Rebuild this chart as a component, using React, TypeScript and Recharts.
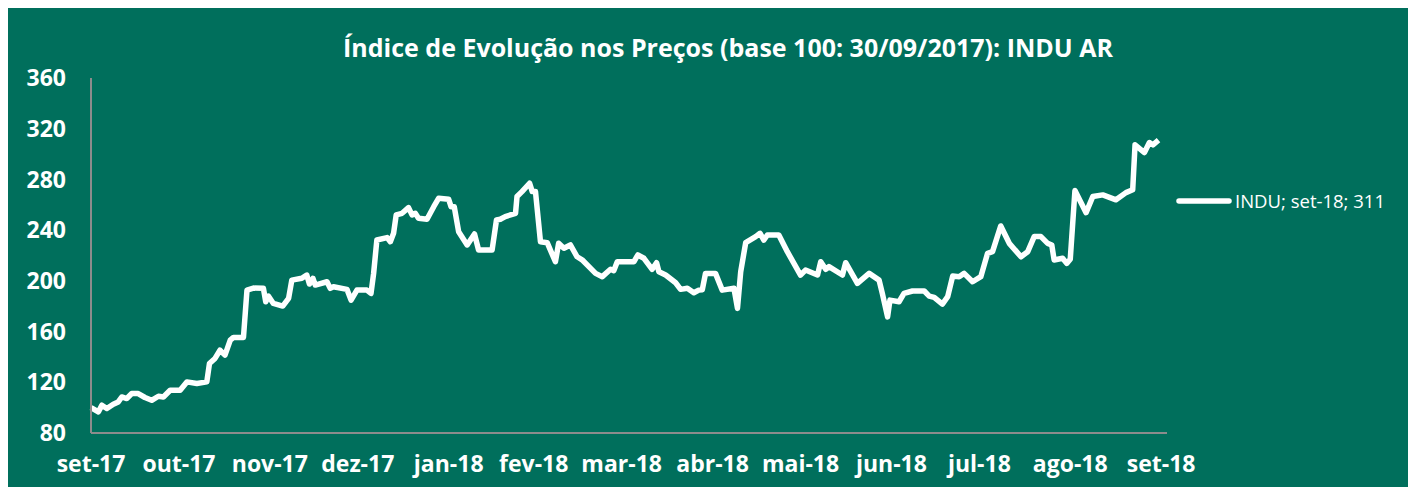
import React from "react";
import { LineChart, Line, XAxis, YAxis, Legend } from "recharts";

const TITLE = "Índice de Evolução nos Preços (base 100: 30/09/2017): INDU AR";
const SERIES_NAME = "INDU";
const LEGEND_TEXT = "INDU; set-18; 311";

// days since 30/09/2017
const days = [
  0, 2.5, 3.7, 5.4, 7.6, 9.3, 10.5, 12.2, 13.9, 16.1, 18.4, 20.7, 23.0, 24.7, 27.0, 30.4, 32.7, 36.1, 39.5, 40.4,
  42.3, 44.0, 45.7, 47.5, 48.6, 52.0, 53.2, 55.4, 58.8, 59.6, 60.5, 62.2, 65.4, 67.4, 68.5, 71.9, 73.6, 74.5, 75.7, 76.5,
  80.5, 81.6, 82.7, 87.3, 88.7, 90.7, 94.1, 95.5, 96.4, 97.5, 101.0, 102.1, 103.2, 104.1, 106.1, 108.3, 109.5, 110.6, 111.7, 114.6,
  116.9, 118.6, 122.0, 122.8, 123.9, 125.4, 128.3, 130.8, 132.2, 136.8, 138.3, 139.6, 141.3, 144.8, 145.3, 147.0, 149.6, 150.5, 151.6, 153.3,
  155.6, 158.4, 159.5, 161.3, 163.5, 165.8, 167.5, 172.1, 174.4, 177.2, 178.3, 179.5, 185.2, 186.5, 188.6, 191.4, 192.9, 193.7, 196.0, 199.4,
  201.1, 203.4, 205.6, 207.3, 208.5, 209.6, 213.0, 215.3, 219.3, 220.5, 221.6, 223.3, 226.7, 228.2, 229.5, 230.7, 234.6, 237.5, 242.0, 243.7,
  247.8, 248.9, 250.6, 251.7, 256.3, 257.4, 261.4, 265.4, 268.8, 269.9, 271.7, 272.5, 275.6, 277.3, 280.2, 284.2, 285.9, 287.6, 290.4, 292.2,
  293.9, 296.1, 297.8, 300.7, 303.5, 305.8, 307.5, 310.3, 313.2, 317.2, 319.5, 321.7, 324.0, 326.3, 327.7, 328.5, 331.4, 332.8, 334.0, 335.6,
  339.4, 341.7, 345.1, 349.6, 353.0, 355.3, 356.1, 359.3, 361.0, 362.2, 364.1,
];

const values = [
  100, 96.6, 101.9, 99.3, 102.7, 104.5, 108.4, 107.2, 111.1, 111.1, 108, 105.8, 109, 108.4, 113.7, 113.7, 120.3, 119, 120.3, 134.8,
  138.8, 145.3, 141.4, 153.2, 155.4, 155.4, 192.7, 194.3, 194.1, 183.5, 188, 182.2, 180.1, 186.2, 200.6, 202, 204.6, 197.5, 202, 196.7,
  199.3, 194.1, 195.3, 193.3, 184.8, 192.7, 192.7, 190.1, 205.9, 232.2, 234.1, 230.9, 237.5, 252, 253.3, 257.8, 252, 253.3, 249.4, 248.6,
  258.5, 265.2, 264.4, 258.5, 258.5, 238.8, 228.3, 237, 224.3, 224.3, 248, 248.6, 250.7, 253.3, 266.5, 270.4, 277, 270.4, 270.4, 230.9,
  230.1, 215.1, 229.6, 225.7, 228.3, 219, 216.6, 205.9, 203.3, 209.1, 208, 215.1, 215.1, 220.4, 217.8, 209.1, 214.3, 207.2, 204.6, 198.5,
  193.3, 194.1, 190.6, 192.7, 193, 205.9, 205.9, 192.7, 194.1, 178.3, 207.2, 230.1, 234.9, 237.5, 232.2, 236.2, 236.2, 223, 204.6, 208.5,
  204.6, 215.1, 209.1, 211.2, 204.6, 214.3, 198, 205.9, 200.6, 190.1, 171.6, 184.8, 183.5, 190.1, 192, 192, 188, 187, 181.7, 187.5,
  203.8, 203.3, 205.9, 199.3, 203.3, 221.7, 223, 243.3, 229.6, 219, 223, 234.9, 234.9, 229.6, 228.3, 216.5, 217.8, 213.8, 217, 271.2,
  253.8, 266.5, 267.8, 263.9, 269.6, 271.8, 307.3, 301.2, 309.1, 307.3, 311,
];

const monthTicks = [0, 30, 61, 91, 122, 151, 181, 212, 242, 273, 303, 334, 365];
const monthLabels = [
  "set-17", "out-17", "nov-17", "dez-17", "jan-18", "fev-18", "mar-18",
  "abr-18", "mai-18", "jun-18", "jul-18", "ago-18", "set-18",
];
const yTicks = [80, 120, 160, 200, 240, 280, 320, 360];

const data = days.map((d, i) => ({ d, v: values[i] }));

const BG = "#006F5C";
const FONT = "'Open Sans', sans-serif";

const LegendContent = () => (
  <div style={{ display: "flex", alignItems: "center", fontFamily: FONT, color: "#fff", fontSize: 18.5, whiteSpace: "nowrap" }}>
    <svg width={58} height={10} style={{ marginRight: 2 }}>
      <line x1={4} y1={5} x2={54} y2={5} stroke="#fff" strokeWidth={5.5} strokeLinecap="round" />
    </svg>
    <span>{LEGEND_TEXT}</span>
  </div>
);

export default function App() {
  return (
    <div style={{ position: "relative", width: 1400, height: 479, background: BG }}>
      <div
        style={{
          position: "absolute",
          left: 0,
          width: 1440,
          top: 22,
          textAlign: "center",
          color: "#fff",
          fontFamily: FONT,
          fontWeight: 700,
          fontSize: 25,
          whiteSpace: "nowrap",
        }}
      >
        {TITLE}
      </div>
      <LineChart width={1400} height={479} data={data} margin={{ top: 70, right: 241, bottom: 0, left: 0 }}>
        <XAxis
          dataKey="d"
          type="number"
          domain={[0, 367]}
          ticks={monthTicks}
          tickFormatter={(t: number) => monthLabels[monthTicks.indexOf(t)] ?? ""}
          interval={0}
          tickLine={false}
          tickSize={0}
          tickMargin={23}
          height={54}
          axisLine={{ stroke: "#8C8C8C", strokeWidth: 2 }}
          tick={{ fill: "#fff", fontFamily: FONT, fontWeight: 700, fontSize: 23 }}
        />
        <YAxis
          type="number"
          domain={[80, 360]}
          ticks={yTicks}
          interval={0}
          width={83}
          tickLine={false}
          tickSize={0}
          tickMargin={25}
          axisLine={{ stroke: "#8C8C8C", strokeWidth: 2 }}
          tick={{ fill: "#fff", fontFamily: FONT, fontWeight: 700, fontSize: 23 }}
        />
        <Legend
          verticalAlign="middle"
          align="center"
          layout="horizontal"
          content={<LegendContent />}
          wrapperStyle={{ top: 180, left: 1167, width: 230 }}
        />
        <Line
          name={SERIES_NAME}
          dataKey="v"
          type="linear"
          stroke="#fff"
          strokeWidth={5.5}
          strokeLinejoin="round"
          dot={false}
          isAnimationActive={false}
        />
      </LineChart>
    </div>
  );
}
